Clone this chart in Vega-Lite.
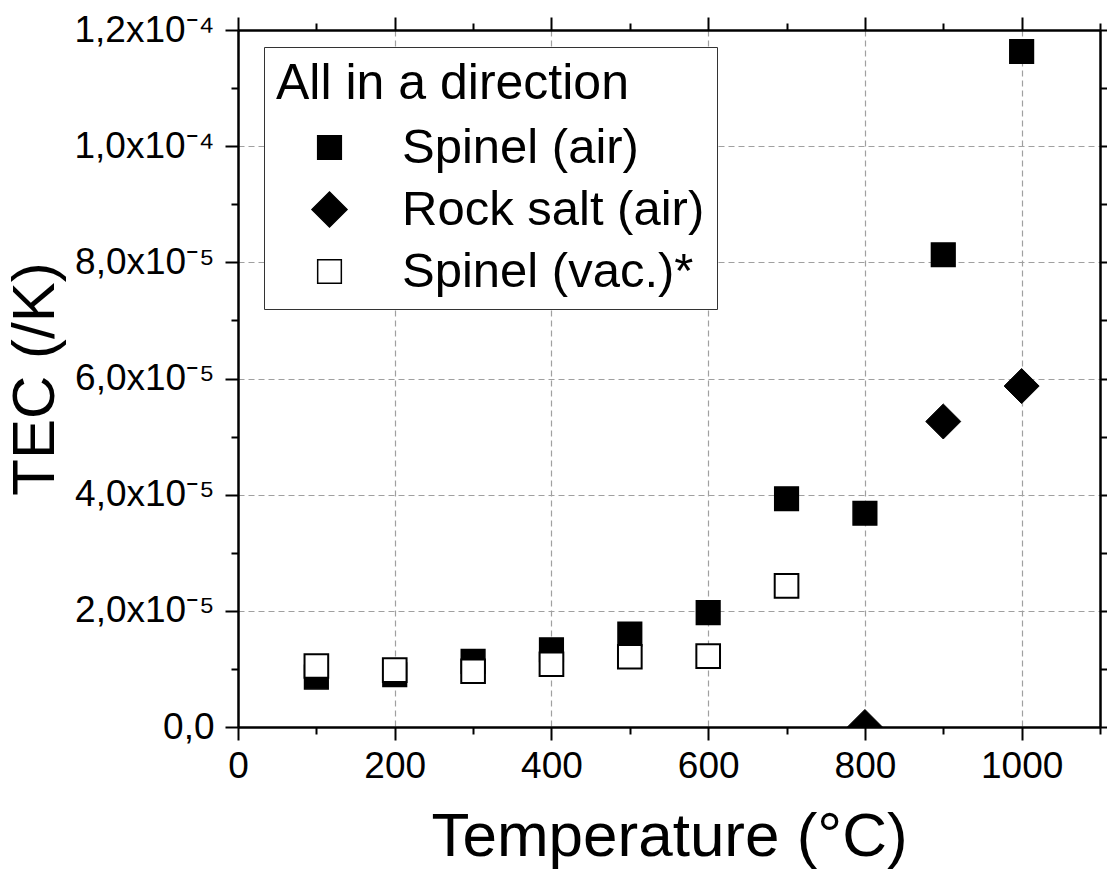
{
  "$schema": "https://vega.github.io/schema/vega-lite/v6.json",
  "width": 862,
  "height": 697,
  "autosize": {"type": "none"},
  "padding": {"left": 238, "top": 30, "right": 7, "bottom": 151},
  "background": "white",
  "data": {
    "values": [
      {"T": 100, "TEC": 0.0000086, "series": "Spinel (air)"},
      {"T": 200, "TEC": 0.0000090, "series": "Spinel (air)"},
      {"T": 300, "TEC": 0.0000113, "series": "Spinel (air)"},
      {"T": 400, "TEC": 0.0000133, "series": "Spinel (air)"},
      {"T": 500, "TEC": 0.0000160, "series": "Spinel (air)"},
      {"T": 600, "TEC": 0.0000197, "series": "Spinel (air)"},
      {"T": 700, "TEC": 0.0000393, "series": "Spinel (air)"},
      {"T": 800, "TEC": 0.0000368, "series": "Spinel (air)"},
      {"T": 900, "TEC": 0.0000813, "series": "Spinel (air)"},
      {"T": 1000, "TEC": 0.0001163, "series": "Spinel (air)"},
      {"T": 800, "TEC": 0.0, "series": "Rock salt (air)"},
      {"T": 900, "TEC": 0.0000526, "series": "Rock salt (air)"},
      {"T": 1000, "TEC": 0.0000587, "series": "Rock salt (air)"},
      {"T": 100, "TEC": 0.0000105, "series": "Spinel (vac.)*"},
      {"T": 200, "TEC": 0.0000098, "series": "Spinel (vac.)*"},
      {"T": 300, "TEC": 0.0000096, "series": "Spinel (vac.)*"},
      {"T": 400, "TEC": 0.0000108, "series": "Spinel (vac.)*"},
      {"T": 500, "TEC": 0.0000121, "series": "Spinel (vac.)*"},
      {"T": 600, "TEC": 0.0000122, "series": "Spinel (vac.)*"},
      {"T": 700, "TEC": 0.0000243, "series": "Spinel (vac.)*"}
    ]
  },
  "resolve": {"axis": {"x": "independent", "y": "independent"}},
  "layer": [
    {
      "transform": [{"filter": "datum.series === 'Spinel (air)'"}],
      "mark": {"type": "point", "filled": true, "stroke": "black", "strokeWidth": 1.5, "opacity": 1, "size": 560, "clip": true},
      "encoding": {
        "x": {"field": "T", "type": "quantitative",
          "scale": {"domain": [0, 1100], "nice": false, "zero": false},
          "axis": {"orient": "bottom", "values": [0, 200, 400, 600, 800, 1000], "format": "d", "title": "Temperature (°C)", "grid": true, "tickSize": 13, "labelPadding": 8, "titlePadding": 22}},
        "y": {"field": "TEC", "type": "quantitative",
          "scale": {"domain": [0, 0.00012], "nice": false, "zero": false},
          "axis": {"orient": "left", "values": [0, 0.00002, 0.00004, 0.00006, 0.00008, 0.0001, 0.00012], "title": "TEC (/K)", "grid": true, "tickSize": 13, "labelPadding": 11, "titlePadding": 8,
            "labelExpr": "datum.value == 0 ? '0,0' : (datum.value < 0.00009 ? replace(format(datum.value * 100000, '.1f'), '.', ',') + 'x10⁻⁵' : replace(format(datum.value * 10000, '.1f'), '.', ',') + 'x10⁻⁴')"}},
        "shape": {"field": "series", "type": "nominal", "sort": null,
          "scale": {"domain": ["Spinel (air)", "Rock salt (air)", "Spinel (vac.)*"], "range": ["square", "M-1.48,0L0,-1.48L1.48,0L0,1.48Z", "square"]},
          "legend": {"title": "All in a direction",
            "encode": {"symbols": {"update": {"stroke": {"value": "black"}, "strokeWidth": {"value": 2}}}}}},
        "fill": {"field": "series", "type": "nominal", "sort": null,
          "scale": {"domain": ["Spinel (air)", "Rock salt (air)", "Spinel (vac.)*"], "range": ["black", "black", "white"]},
          "legend": {"title": "All in a direction",
            "encode": {"symbols": {"update": {"stroke": {"value": "black"}, "strokeWidth": {"value": 2}}}}}}
      }
    },
    {
      "transform": [{"filter": "datum.series === 'Rock salt (air)'"}],
      "mark": {"type": "point", "filled": true, "stroke": "black", "strokeWidth": 1, "opacity": 1, "size": 560, "clip": true},
      "encoding": {
        "x": {"field": "T", "type": "quantitative",
          "axis": {"orient": "bottom", "values": [100, 300, 500, 700, 900, 1100], "labels": false, "grid": false, "domain": false, "tickSize": 7, "title": null}},
        "y": {"field": "TEC", "type": "quantitative",
          "axis": {"orient": "left", "values": [0.00001, 0.00003, 0.00005, 0.00007, 0.00009, 0.00011], "labels": false, "grid": false, "domain": false, "tickSize": 7, "title": null}},
        "shape": {"field": "series", "type": "nominal", "sort": null, "legend": {"title": "All in a direction"}},
        "fill": {"field": "series", "type": "nominal", "sort": null, "legend": {"title": "All in a direction"}}
      }
    },
    {
      "transform": [{"filter": "datum.series === 'Spinel (vac.)*'"}],
      "mark": {"type": "point", "filled": true, "stroke": "black", "strokeWidth": 2, "opacity": 1, "size": 560, "clip": true},
      "encoding": {
        "x": {"field": "T", "type": "quantitative",
          "axis": {"orient": "top", "values": [0, 200, 400, 600, 800, 1000], "labels": false, "grid": false, "tickSize": 13, "title": null}},
        "y": {"field": "TEC", "type": "quantitative",
          "axis": {"orient": "right", "values": [0, 0.00002, 0.00004, 0.00006, 0.00008, 0.0001, 0.00012], "labels": false, "grid": false, "tickSize": 13, "title": null}},
        "shape": {"field": "series", "type": "nominal", "sort": null, "legend": {"title": "All in a direction"}},
        "fill": {"field": "series", "type": "nominal", "sort": null, "legend": {"title": "All in a direction"}}
      }
    },
    {
      "mark": {"type": "point", "opacity": 0},
      "encoding": {
        "x": {"field": "T", "type": "quantitative",
          "axis": {"orient": "top", "values": [100, 300, 500, 700, 900, 1100], "labels": false, "grid": false, "domain": false, "tickSize": 7, "title": null}},
        "y": {"field": "TEC", "type": "quantitative",
          "axis": {"orient": "right", "values": [0.00001, 0.00003, 0.00005, 0.00007, 0.00009, 0.00011], "labels": false, "grid": false, "domain": false, "tickSize": 7, "title": null}}
      }
    }
  ],
  "config": {
    "view": {"stroke": null},
    "font": "Liberation Sans",
    "axis": {
      "labelFont": "Liberation Sans", "titleFont": "Liberation Sans",
      "labelFontSize": 37, "titleFontSize": 62, "titleFontWeight": "normal",
      "labelColor": "black", "titleColor": "black",
      "domainColor": "black", "domainWidth": 2.5,
      "tickColor": "black", "tickWidth": 2,
      "gridColor": "#a0a0a0", "gridDash": [6, 4], "gridWidth": 1.2,
      "labelFlush": false
    },
    "axisY": {"titleFontSize": 60},
    "legend": {
      "orient": "none", "legendX": 26, "legendY": 17,
      "strokeColor": "#333333", "fillColor": "white", "padding": 12,
      "titleFont": "Liberation Sans", "titleFontSize": 50, "titleFontWeight": "normal", "titleColor": "black", "titlePadding": 14, "titleLimit": 700,
      "labelFont": "Liberation Sans", "labelFontSize": 49, "labelColor": "black", "labelLimit": 500,
      "labelOffset": 48, "symbolOffset": 29, "rowPadding": 12,
      "symbolSize": 560
    }
  }
}
